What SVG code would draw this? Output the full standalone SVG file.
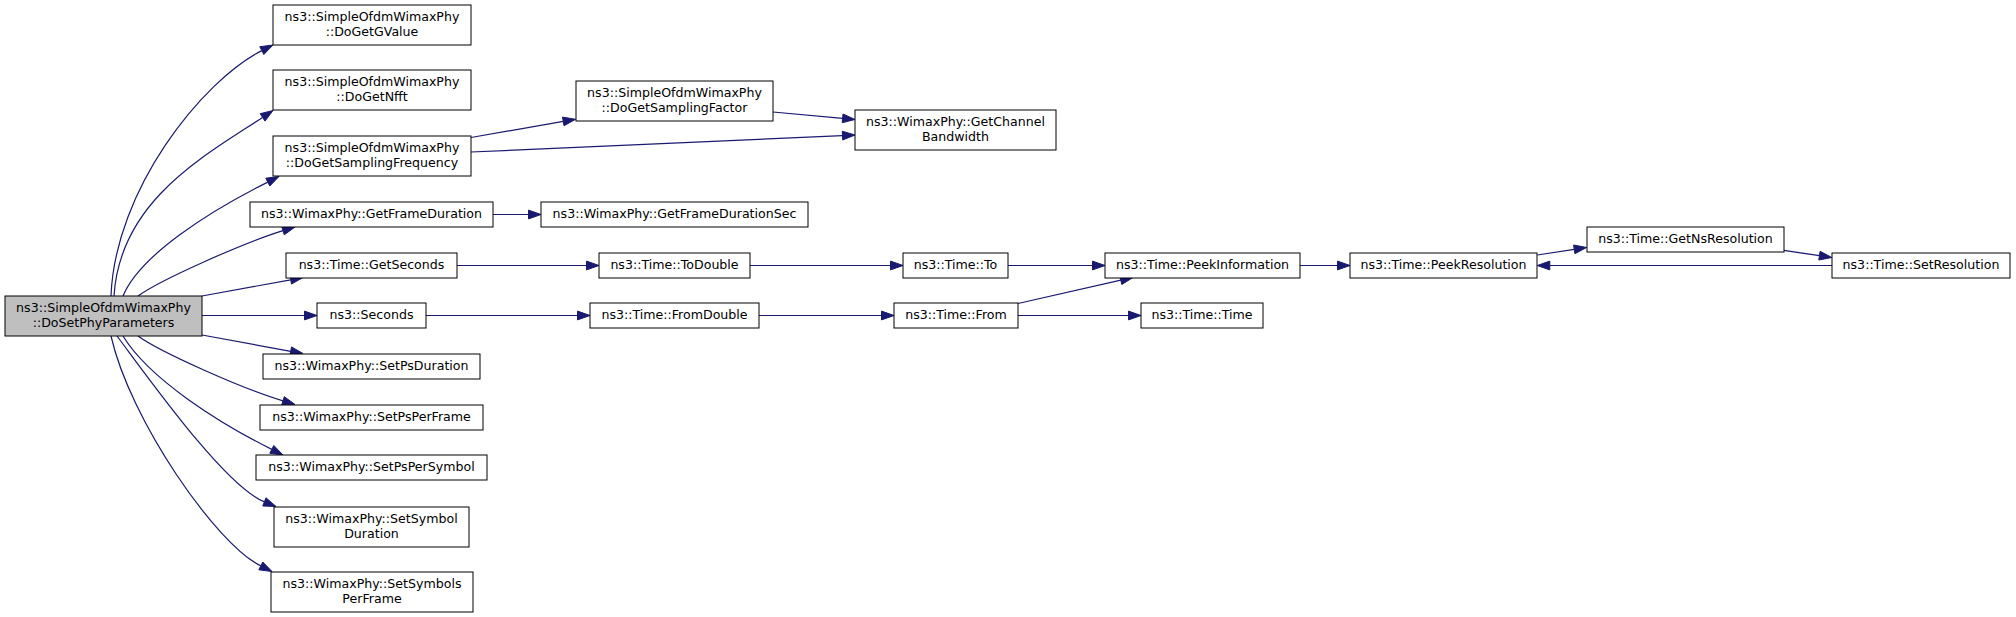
<svg xmlns="http://www.w3.org/2000/svg" width="2016" height="617" viewBox="0 0 2016 617">
<style>
.n rect{fill:#ffffff;stroke:#000000;stroke-width:1}
.m rect{fill:#bfbfbf;stroke:#000000;stroke-width:1}
text{font-family:"DejaVu Sans","Liberation Sans",sans-serif;font-size:12.6px;text-anchor:middle;fill:#000000}
.e path{fill:none;stroke:#191970;stroke-width:1.2}
.e polygon{fill:#191970;stroke:#191970;stroke-width:1}
</style>
<rect x="0" y="0" width="2016" height="617" fill="#ffffff"/>
<g id="edges" class="e">
<path d="M111,296 C115,190 202,81 261.8,50.6"/><polygon points="259.8,46.7 273,45 263.8,54.5"/>
<path d="M114,296 C120,200 206,155 262.6,117.4"/><polygon points="260.2,113.7 273,110.5 265,121.1"/>
<path d="M123,296 C140,255 210,211 267.8,182.1"/><polygon points="265.8,178.2 279,176.5 269.8,186"/>
<path d="M138,296 C160,280 243,243 283,230.6"/><polygon points="281.7,226.4 295,227 284.3,234.8"/>
<path d="M202,296 L290.7,279.8"/><polygon points="289.9,275.4 303,277.5 291.5,284.1"/>
<path d="M202,315.5 L304.5,315.5"/><polygon points="304.5,311.1 317,315.5 304.5,319.9"/>
<path d="M202,335 L290.7,351.3"/><polygon points="291.5,346.9 303,353.5 289.9,355.6"/>
<path d="M138,336 C160,352 243,389 283,400.9"/><polygon points="284.3,396.7 295,404.5 281.7,405.1"/>
<path d="M123,336 C150,380 221,424 271.8,449.4"/><polygon points="273.8,445.5 283,455 269.8,453.3"/>
<path d="M117,336 C150,380 225,486 264.4,501.9"/><polygon points="266,497.8 276,506.5 262.8,506"/>
<path d="M111,336 C130,420 216,544 260.8,565.9"/><polygon points="262.8,562 272,571.5 258.8,569.8"/>
<path d="M471,137.5 L563.3,121.4"/><polygon points="562.5,117.1 575.6,119.3 564,125.7"/>
<path d="M471,152 L842.5,135.6"/><polygon points="842.3,131.2 855,135 842.7,140"/>
<path d="M773,112 L842.6,118.4"/><polygon points="843,114 855,119.5 842.2,122.7"/>
<path d="M493,214.5 L528.5,214.5"/><polygon points="528.5,210.1 541,214.5 528.5,218.9"/>
<path d="M457,265.5 L586.5,265.5"/><polygon points="586.5,261.1 599,265.5 586.5,269.9"/>
<path d="M750,265.5 L890.5,265.5"/><polygon points="890.5,261.1 903,265.5 890.5,269.9"/>
<path d="M1008,265.5 L1092.5,265.5"/><polygon points="1092.5,261.1 1105,265.5 1092.5,269.9"/>
<path d="M426,315.5 L577.5,315.5"/><polygon points="577.5,311.1 590,315.5 577.5,319.9"/>
<path d="M759,315.5 L881.5,315.5"/><polygon points="881.5,311.1 894,315.5 881.5,319.9"/>
<path d="M1018,315.5 L1128.5,315.5"/><polygon points="1128.5,311.1 1141,315.5 1128.5,319.9"/>
<path d="M1018,303.5 L1120.8,280.2"/><polygon points="1119.8,275.9 1133,277.5 1121.8,284.5"/>
<path d="M1300,265.5 L1337.5,265.5"/><polygon points="1337.5,261.1 1350,265.5 1337.5,269.9"/>
<path d="M1537.3,255 L1574.2,249.4"/><polygon points="1573.6,245 1586.6,247.5 1574.9,253.7"/>
<path d="M1783.7,250.3 L1819.4,255.7"/><polygon points="1820.1,251.3 1831.8,257.5 1818.8,260"/>
<path d="M1832,265.5 L1549.8,265.5"/><polygon points="1549.8,261.1 1537.3,265.5 1549.8,269.9"/>
</g>
<g id="main" class="m"><rect x="5" y="296" width="197" height="40"/><text x="103.5" y="312.3">ns3::SimpleOfdmWimaxPhy</text><text x="103.5" y="326.8">::DoSetPhyParameters</text></g>
<g id="DoGetGValue" class="n"><rect x="273" y="5" width="198" height="40"/><text x="372" y="21.3">ns3::SimpleOfdmWimaxPhy</text><text x="372" y="35.8">::DoGetGValue</text></g>
<g id="DoGetNfft" class="n"><rect x="273" y="70" width="198" height="40"/><text x="372" y="86.3">ns3::SimpleOfdmWimaxPhy</text><text x="372" y="100.8">::DoGetNfft</text></g>
<g id="DoGetSamplingFrequency" class="n"><rect x="273" y="136" width="198" height="40"/><text x="372" y="152.3">ns3::SimpleOfdmWimaxPhy</text><text x="372" y="166.8">::DoGetSamplingFrequency</text></g>
<g id="GetFrameDuration" class="n"><rect x="250" y="202" width="243" height="25"/><text x="371.5" y="218.2">ns3::WimaxPhy::GetFrameDuration</text></g>
<g id="GetSeconds" class="n"><rect x="286" y="253" width="171" height="25"/><text x="371.5" y="269.2">ns3::Time::GetSeconds</text></g>
<g id="Seconds" class="n"><rect x="317" y="303" width="109" height="25"/><text x="371.5" y="319.2">ns3::Seconds</text></g>
<g id="SetPsDuration" class="n"><rect x="263" y="354" width="217" height="25"/><text x="371.5" y="370.2">ns3::WimaxPhy::SetPsDuration</text></g>
<g id="SetPsPerFrame" class="n"><rect x="260" y="405" width="223" height="25"/><text x="371.5" y="421.2">ns3::WimaxPhy::SetPsPerFrame</text></g>
<g id="SetPsPerSymbol" class="n"><rect x="256" y="455" width="231" height="25"/><text x="371.5" y="471.2">ns3::WimaxPhy::SetPsPerSymbol</text></g>
<g id="SetSymbolDuration" class="n"><rect x="274" y="507" width="195" height="40"/><text x="371.5" y="523.3">ns3::WimaxPhy::SetSymbol</text><text x="371.5" y="537.8">Duration</text></g>
<g id="SetSymbolsPerFrame" class="n"><rect x="271" y="572" width="202" height="40"/><text x="372" y="588.3">ns3::WimaxPhy::SetSymbols</text><text x="372" y="602.8">PerFrame</text></g>
<g id="DoGetSamplingFactor" class="n"><rect x="576" y="81" width="197" height="40"/><text x="674.5" y="97.3">ns3::SimpleOfdmWimaxPhy</text><text x="674.5" y="111.8">::DoGetSamplingFactor</text></g>
<g id="GetFrameDurationSec" class="n"><rect x="541" y="202" width="267" height="25"/><text x="674.5" y="218.2">ns3::WimaxPhy::GetFrameDurationSec</text></g>
<g id="ToDouble" class="n"><rect x="599" y="253" width="151" height="25"/><text x="674.5" y="269.2">ns3::Time::ToDouble</text></g>
<g id="FromDouble" class="n"><rect x="590" y="303" width="169" height="25"/><text x="674.5" y="319.2">ns3::Time::FromDouble</text></g>
<g id="GetChannelBandwidth" class="n"><rect x="855" y="110" width="201" height="40"/><text x="955.5" y="126.3">ns3::WimaxPhy::GetChannel</text><text x="955.5" y="140.8">Bandwidth</text></g>
<g id="To" class="n"><rect x="903" y="253" width="105" height="25"/><text x="955.5" y="269.2">ns3::Time::To</text></g>
<g id="From" class="n"><rect x="894" y="303" width="124" height="25"/><text x="956" y="319.2">ns3::Time::From</text></g>
<g id="PeekInformation" class="n"><rect x="1105" y="253" width="195" height="25"/><text x="1202.5" y="269.2">ns3::Time::PeekInformation</text></g>
<g id="Time" class="n"><rect x="1141" y="303" width="122" height="25"/><text x="1202" y="319.2">ns3::Time::Time</text></g>
<g id="PeekResolution" class="n"><rect x="1350" y="253" width="187" height="25"/><text x="1443.5" y="269.2">ns3::Time::PeekResolution</text></g>
<g id="GetNsResolution" class="n"><rect x="1587" y="227" width="197" height="25"/><text x="1685.5" y="243.2">ns3::Time::GetNsResolution</text></g>
<g id="SetResolution" class="n"><rect x="1832" y="253" width="178" height="25"/><text x="1921" y="269.2">ns3::Time::SetResolution</text></g>
</svg>
